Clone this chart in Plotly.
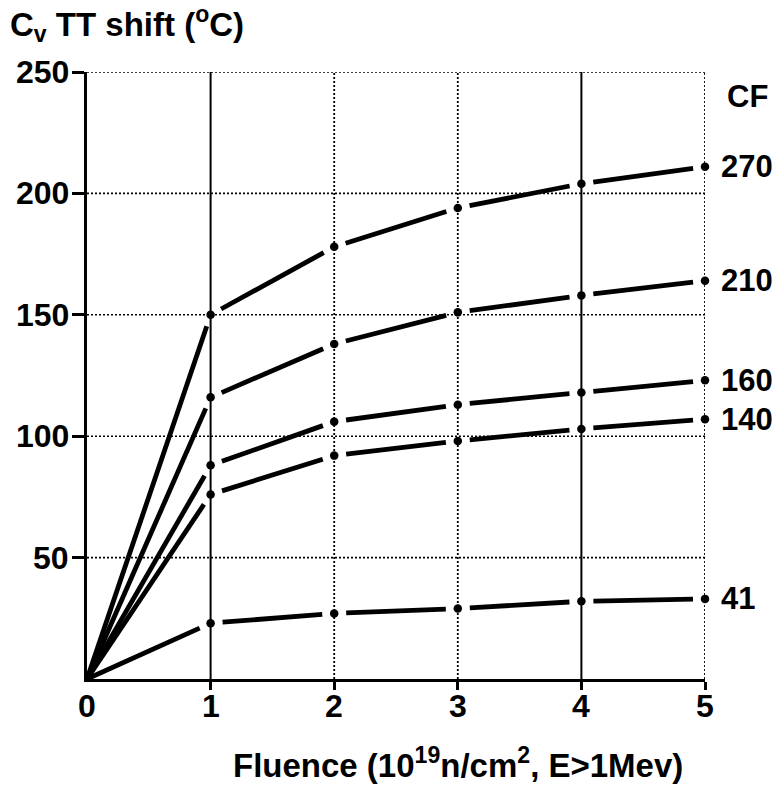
import math
import plotly.graph_objects as go

# Fluence (10^19 n/cm^2) and Charpy transition temperature shift (deg C) per copper factor
fluence = [0, 1, 2, 3, 4, 5]
cf_labels = ["270", "210", "160", "140", "41"]
shift_270 = [0, 150, 178, 194, 204, 211]
shift_210 = [0, 116, 138, 151, 158, 164]
shift_160 = [0, 88, 106, 113, 118, 123]
shift_140 = [0, 76, 92, 98, 103, 107]
shift_41 = [0, 23, 27, 29, 32, 33]
series = [shift_270, shift_210, shift_160, shift_140, shift_41]

x_ticks = [0, 1, 2, 3, 4, 5]
y_ticks = [50, 100, 150, 200, 250]

# figure geometry
W, H = 776, 785
ML, MR, MT, MB = 87, 71, 72, 106
X_RANGE = [0, 5]
Y_RANGE = [0, 250]
plot_w = W - ML - MR
plot_h = H - MT - MB
px_x = plot_w / (X_RANGE[1] - X_RANGE[0])
px_y = plot_h / (Y_RANGE[1] - Y_RANGE[0])
GAP = 12  # pixels left open on each side of a data dot

FONT = "Liberation Sans, Arial, sans-serif"
BOLD = dict(family=FONT, color="black", weight="bold")


def gapped_segments(xs, ys):
    """Split a polyline into segments that stop short of each dot."""
    out_x, out_y = [], []
    for i in range(len(xs) - 1):
        x0, y0, x1, y1 = xs[i], ys[i], xs[i + 1], ys[i + 1]
        dx, dy = (x1 - x0) * px_x, (y1 - y0) * px_y
        L = math.hypot(dx, dy)
        ux, uy = dx / L / px_x, dy / L / px_y
        g0 = 0 if x0 == 0 else GAP
        g1 = GAP
        out_x += [x0 + ux * g0, x1 - ux * g1, None]
        out_y += [y0 + uy * g0, y1 - uy * g1, None]
    return out_x, out_y


fig = go.Figure()

for ys in series:
    sx, sy = gapped_segments(fluence, ys)
    fig.add_trace(go.Scatter(x=sx, y=sy, mode="lines",
                             line=dict(color="black", width=4.8),
                             hoverinfo="skip", showlegend=False))
    fig.add_trace(go.Scatter(x=fluence[1:], y=ys[1:], mode="markers",
                             marker=dict(color="black", size=8.5),
                             cliponaxis=False, showlegend=False))

# grid: dotted horizontals, mixed verticals
shapes = []
for yv in y_ticks:
    shapes.append(dict(type="line", xref="x", yref="y", x0=X_RANGE[0], x1=X_RANGE[1],
                       y0=yv, y1=yv, layer="below",
                       line=dict(color="black", width=1.6, dash="2px,2px")))
solid_grid_x = [1, 4]
for xv in x_ticks[1:]:
    solid = xv in solid_grid_x
    shapes.append(dict(type="line", xref="x", yref="y", x0=xv, x1=xv,
                       y0=Y_RANGE[0], y1=Y_RANGE[1], layer="below",
                       line=dict(color="black", width=2 if solid else 1.8,
                                 dash="solid" if solid else "2px,2px")))

annotations = []
# tick labels placed close to the axes
for yv in y_ticks:
    annotations.append(dict(x=0, y=yv, xref="paper", yref="y", text=str(yv),
                            showarrow=False, xanchor="right", yanchor="middle",
                            xshift=-16, font=dict(size=32, **BOLD)))
for xv in x_ticks:
    annotations.append(dict(x=xv, y=0, xref="x", yref="paper", text=str(xv),
                            showarrow=False, xanchor="center", yanchor="middle",
                            yshift=-27, font=dict(size=32, **BOLD)))
# copper factor labels at the end of each curve
for lab, ys in zip(cf_labels, series):
    annotations.append(dict(x=fluence[-1], y=ys[-1], xref="x", yref="y",
                            text=lab, showarrow=False, xanchor="left",
                            yanchor="middle", xshift=14, font=dict(size=31, **BOLD)))
annotations.append(dict(x=1, y=1, xref="paper", yref="paper", text="CF",
                        showarrow=False, xanchor="left", yanchor="middle",
                        xshift=20, yshift=-24, font=dict(size=31, **BOLD)))
annotations.append(dict(x=0.6, y=-0.138, xref="paper", yref="paper",
                        text="Fluence (10<sup>19</sup>n/cm<sup>2</sup>, E>1Mev)",
                        showarrow=False, xanchor="center", yanchor="middle",
                        font=dict(size=33, **BOLD)))

fig.update_layout(
    width=W, height=H,
    margin=dict(l=ML, r=MR, t=MT, b=MB),
    paper_bgcolor="white", plot_bgcolor="white",
    title=dict(text="C<sub>v</sub> TT shift (<sup>o</sup>C)",
               x=10 / W, xanchor="left", y=1 - 24 / H, yanchor="middle",
               font=dict(size=33, **BOLD)),
    shapes=shapes,
    annotations=annotations,
    xaxis=dict(range=X_RANGE, tickvals=x_ticks[1:], showgrid=False, zeroline=False,
               showline=True, linecolor="black", linewidth=3,
               ticks="outside", ticklen=8, tickwidth=3, tickcolor="black",
               showticklabels=False),
    yaxis=dict(range=Y_RANGE, tickvals=y_ticks, showgrid=False, zeroline=False,
               showline=True, linecolor="black", linewidth=3,
               ticks="outside", ticklen=12, tickwidth=3, tickcolor="black",
               showticklabels=False),
)

fig.write_html("out.html")
